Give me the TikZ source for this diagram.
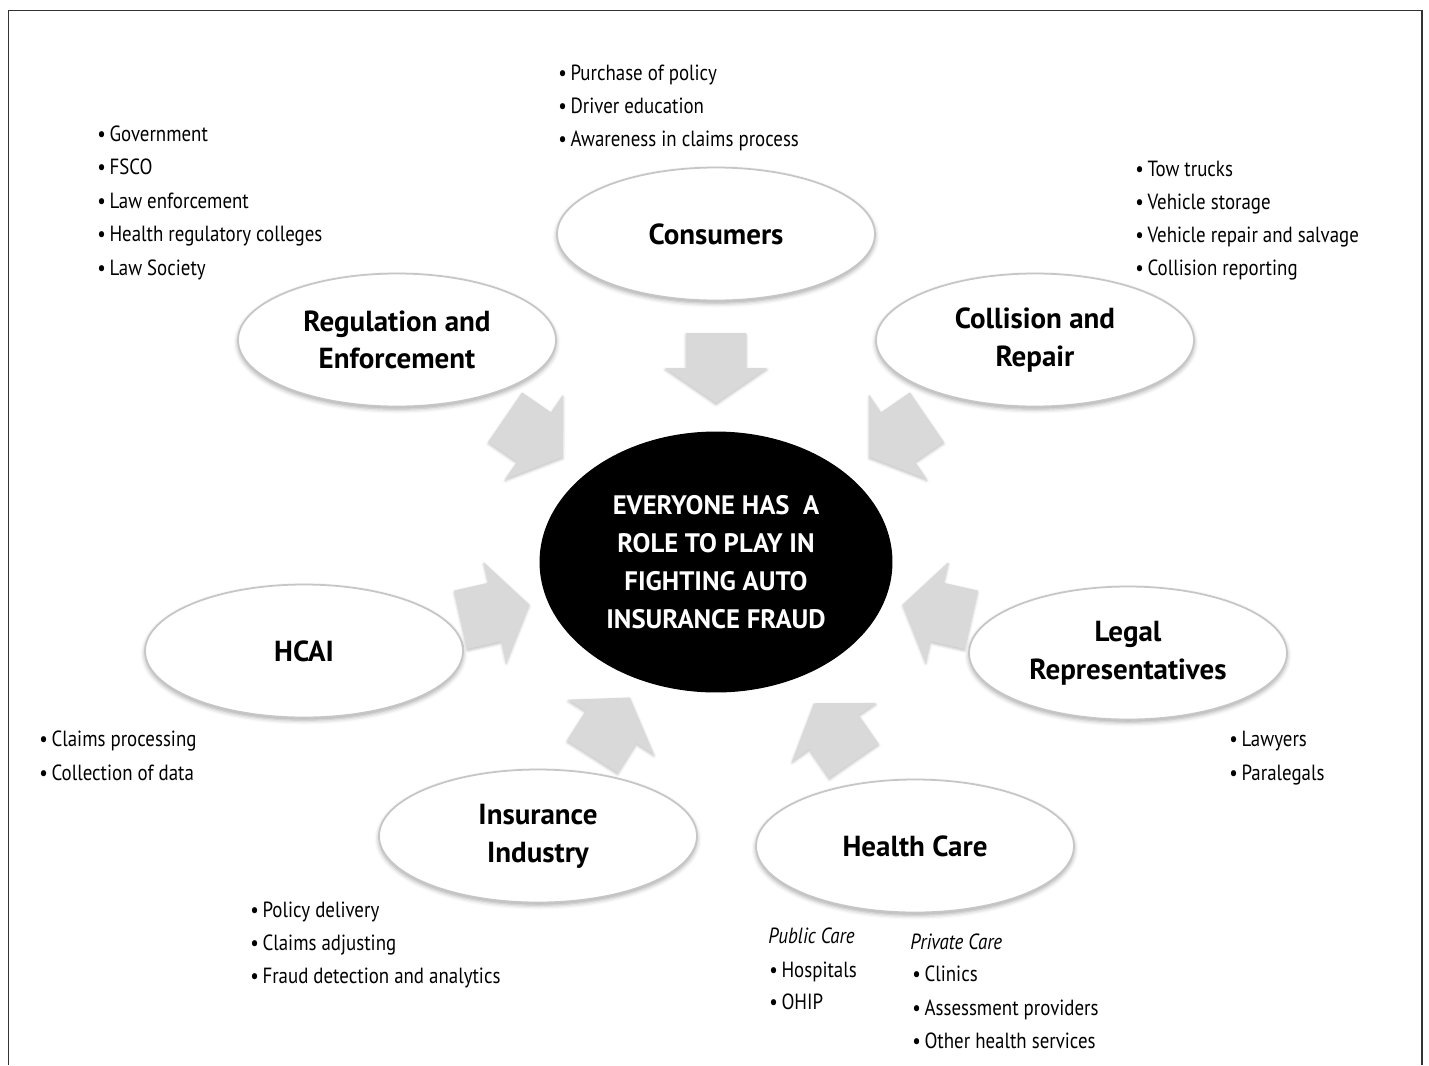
\documentclass[tikz,border=0pt]{standalone}
\usepackage{fontspec}
\setmainfont{PT Sans}[FakeStretch=0.86, BoldFeatures={FakeStretch=1.0}]
\usetikzlibrary{shapes.geometric,shadows.blur}

\tikzset{
  role/.style={ellipse, draw=gray!45, line width=1pt, fill=white,
    minimum width=6.36cm, minimum height=2.66cm, inner sep=0pt, align=center,
    font=\bfseries\fontsize{16.5}{21.5}\selectfont,
    blur shadow={shadow xshift=0pt, shadow yshift=-1.5pt,
      shadow blur radius=2.5pt, shadow opacity=35}},
  item/.style={anchor=base west, inner sep=0pt, font=\fontsize{12.5}{15}\selectfont},
  pics/feed/.style={code={
    \fill[gray!30, blur shadow={shadow xshift=0pt, shadow yshift=-1pt,
        shadow blur radius=1.5pt, shadow opacity=25}]
      (-35,-30) -- (0,-30) -- (0,-51) -- (35,0) -- (0,51) -- (0,30) -- (-35,30) -- cycle;}}
}

\begin{document}
\begin{tikzpicture}[x=0.02cm, y=-0.02cm]
  \useasboundingbox (0,0) rectangle (1429,1065);
  % cadre
  \draw[line width=0.9pt, black!80] (8.5,1065) -- (8.5,10.5) -- (1422,10.5) -- (1422,1065);
  % ellipse centrale
  \node[ellipse, fill=black, text=white, minimum width=7.06cm, minimum height=5.22cm,
    align=center, font=\bfseries\fontsize{15.2}{21.5}\selectfont] (core) at (716,562)
    {EVERYONE HAS\ \ A\\ROLE TO PLAY IN\\FIGHTING AUTO\\INSURANCE FRAUD};
  % acteurs
  \node[role] (cons) at (716,234) {Consumers};
  \node[role] (reg) at (397,340) {Regulation and\\Enforcement};
  \node[role] (coll) at (1035,340) {Collision and\\Repair};
  \node[role] (hcai) at (304,651) {HCAI};
  \node[role] (legal) at (1128,653) {Legal\\Representatives};
  \node[role] (insur) at (538,836) {Insurance\\Industry};
  \node[role] (health) at (915,846) {Health Care};
  % flèches vers le centre
  \coordinate (a1) at (716,368);
  \coordinate (a2) at (534,437);
  \coordinate (a3) at (898,437);
  \coordinate (a4) at (495,612);
  \coordinate (a5) at (937,612);
  \coordinate (a6) at (611,727);
  \coordinate (a7) at (834,732);
  \foreach \a in {a1,a2,a3,a4,a5,a6,a7}
    \path (\a) -- (core.center) pic[pos=0, sloped, allow upside down] {feed};
  % listes
  \foreach \t [count=\i] in {Purchase of policy, Driver education, Awareness in claims process}
    \node[item] (cons\i) at ({558},{80+33*(\i-1)}) {•\,\t};
  \foreach \t [count=\i] in {Government, FSCO, Law enforcement, Health regulatory colleges, Law Society}
    \node[item] (reg\i) at ({97},{141+33.5*(\i-1)}) {•\,\t};
  \foreach \t [count=\i] in {Tow trucks, Vehicle storage, Vehicle repair and salvage, Collision reporting}
    \node[item] (coll\i) at ({1135},{176+33.3*(\i-1)}) {•\,\t};
  \foreach \t [count=\i] in {Claims processing, Collection of data}
    \node[item] (hcai\i) at ({39},{746+34*(\i-1)}) {•\,\t};
  \foreach \t [count=\i] in {Lawyers, Paralegals}
    \node[item] (legal\i) at ({1229},{746+34*(\i-1)}) {•\,\t};
  \foreach \t [count=\i] in {Policy delivery, Claims adjusting, Fraud detection and analytics}
    \node[item] (insur\i) at ({250},{917+33*(\i-1)}) {•\,\t};
  % soins publics et privés
  \node[item, font=\itshape\fontsize{12.5}{15}\selectfont] (pub) at (768,943) {Public Care};
  \node[item] (pub1) at (769,977) {•\,Hospitals};
  \node[item] (pub2) at (769,1009) {•\,OHIP};
  \node[item, font=\itshape\fontsize{12.5}{15}\selectfont] (priv) at (910,949) {Private Care};
  \node[item] (priv1) at (912,981) {•\,Clinics};
  \node[item] (priv2) at (912,1015) {•\,Assessment providers};
  \node[item] (priv3) at (912,1048) {•\,Other health services};
\end{tikzpicture}
\end{document}
